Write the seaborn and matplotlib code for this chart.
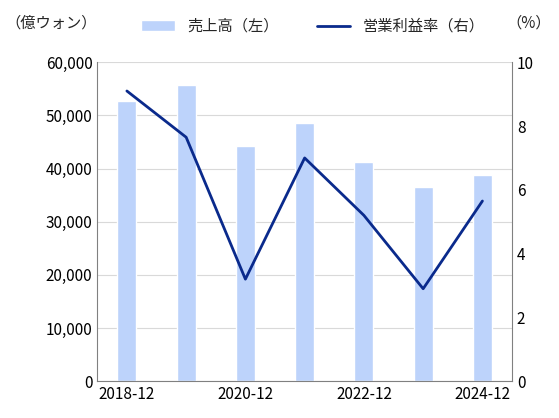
import matplotlib
matplotlib.use("Agg")
import matplotlib.pyplot as plt
import seaborn as sns
import pandas as pd
from matplotlib.ticker import FuncFormatter

sns.set_style("white")
plt.rcParams['font.family'] = ['Noto Sans CJK JP', 'DejaVu Sans']

years = ["2018-12", "2019-12", "2020-12", "2021-12", "2022-12", "2023-12", "2024-12"]
sales = [52800, 55700, 44300, 48600, 41200, 36600, 38800]
margin = [9.1, 7.65, 3.2, 7.0, 5.2, 2.9, 5.65]
tick_labels = ["2018-12", "", "2020-12", "", "2022-12", "", "2024-12"]

df = pd.DataFrame({"year": years, "sales": sales, "margin": margin})

fig = plt.figure(figsize=(5.59, 4.18), dpi=100)
ax = fig.add_axes([0.174, 0.088, 0.742, 0.763])
sns.barplot(data=df, x="year", y="sales", color="#bdd3fb", saturation=1, width=0.32, ax=ax, label="売上高（左）")
ax.set_ylim(0, 60000)
ax.set_yticks(range(0, 60001, 10000))
ax.yaxis.set_major_formatter(FuncFormatter(lambda v, p: f"{int(v):,}"))
ax.set_xlim(-0.5, 6.5)
ax.set_xticks(range(7))
ax.set_xticklabels(tick_labels)
ax.set_xlabel(""); ax.set_ylabel("")
ax.grid(axis="y", color="#d9d9d9", lw=0.8)
ax.set_axisbelow(True)
for s in ["top", "right"]:
    ax.spines[s].set_visible(False)
for s in ["left", "bottom"]:
    ax.spines[s].set_color("#808080")

ax2 = ax.twinx()
sns.lineplot(x=list(range(7)), y=margin, color="#0a2a8c", lw=2, ax=ax2, label="営業利益率（右）")
ax2.set_ylim(0, 10)
ax2.set_yticks(range(0, 11, 2))
for s in ["top", "left", "bottom"]:
    ax2.spines[s].set_visible(False)
ax2.spines["right"].set_color("#808080")

h1, l1 = ax.get_legend_handles_labels()
h2, l2 = ax2.get_legend_handles_labels()
if ax.get_legend() is not None:
    ax.get_legend().remove()
if ax2.get_legend() is not None:
    ax2.get_legend().remove()

for a in (ax, ax2):
    a.tick_params(labelsize=11, colors="black", length=0)

fig.legend(h1 + h2, l1 + l2, loc="upper center", bbox_to_anchor=(0.56, 0.99), ncol=2,
           frameon=False, fontsize=11, handlelength=2.2, columnspacing=2.5)
fig.text(0.01, 0.965, "（億ウォン）", fontsize=11, va="top")
fig.text(0.985, 0.965, "（%）", fontsize=11, va="top", ha="right")
fig.savefig("out.png", dpi=100)
